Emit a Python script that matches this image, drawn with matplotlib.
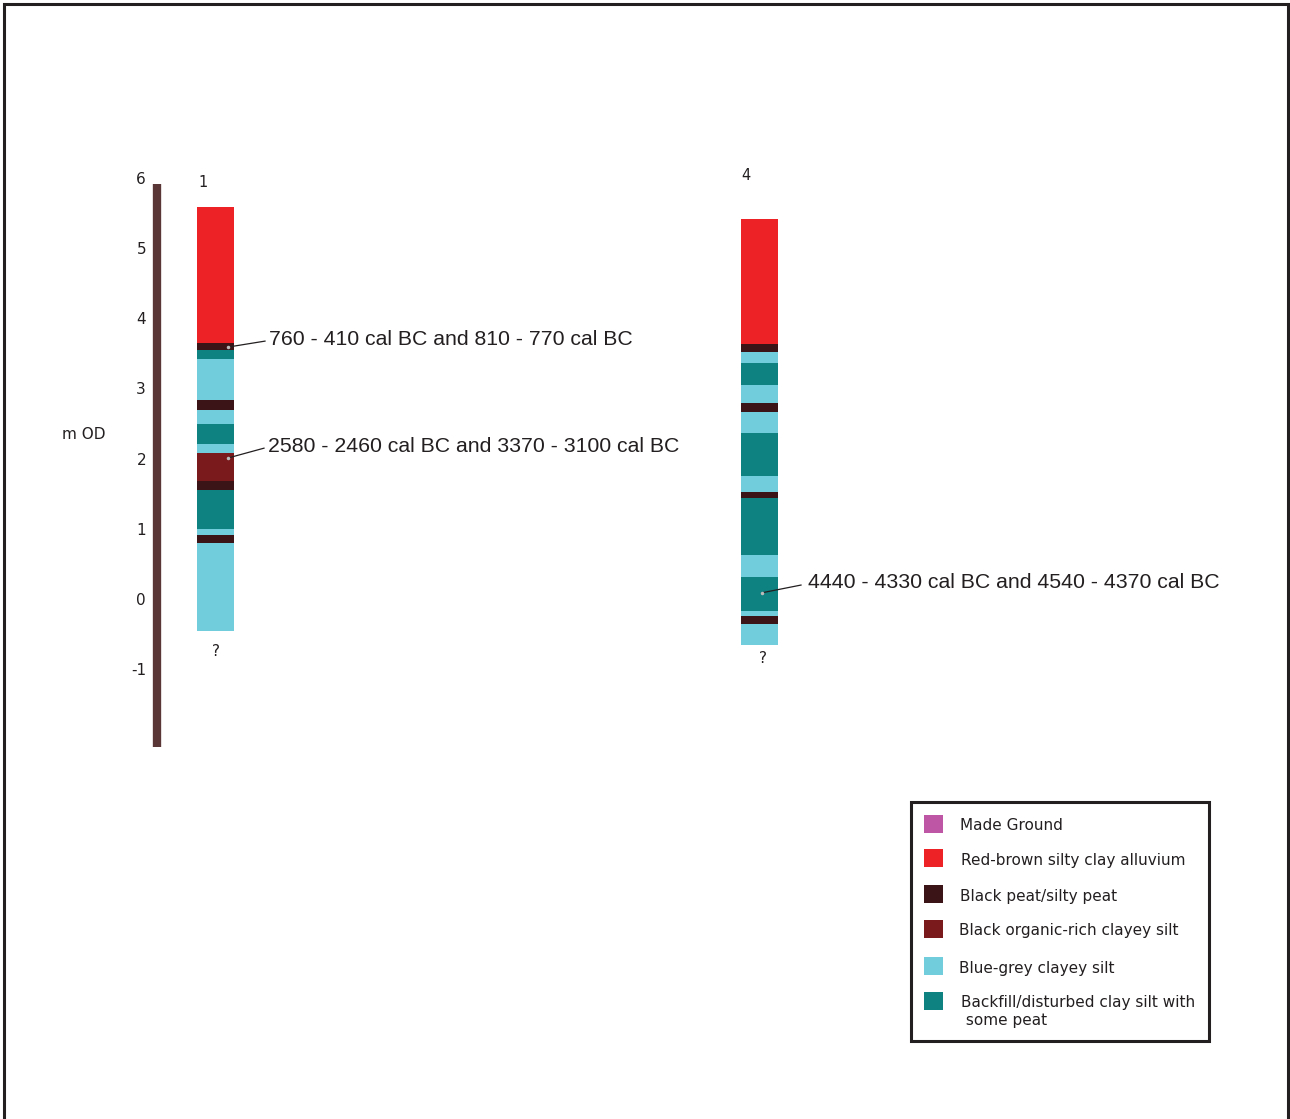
import matplotlib
matplotlib.use("Agg")
import matplotlib.pyplot as plt
from matplotlib.patches import Rectangle

# ---- data -----------------------------------------------------------------
layer_names = {
    "made": "Made Ground",
    "red": "Red-brown silty clay alluvium",
    "peat": "Black peat/silty peat",
    "org": "Black organic-rich clayey silt",
    "blue": "Blue-grey clayey silt",
    "teal": "Backfill/disturbed clay silt with\n some peat",
}
layer_colors = {
    "made": "#BE56A5",
    "red": "#EC2227",
    "peat": "#3B1418",
    "org": "#7A1A1C",
    "blue": "#71CDDC",
    "teal": "#0E8181",
}
legend_order = ["made", "red", "peat", "org", "blue", "teal"]

# borehole 1: layer boundaries (m OD, top to bottom) and layer types
core1_bounds = [5.60, 3.67, 3.57, 3.44, 2.86, 2.72, 2.52, 2.23, 2.10,
                1.70, 1.57, 1.02, 0.93, 0.82, -0.44]
core1_types = ["red", "peat", "teal", "blue", "peat", "blue", "teal",
               "blue", "org", "peat", "teal", "blue", "peat", "blue"]

# borehole 4
core4_bounds = [5.43, 3.65, 3.54, 3.38, 3.07, 2.82, 2.69, 2.38, 1.78,
                1.54, 1.46, 0.65, 0.34, -0.15, -0.22, -0.33, -0.63]
core4_types = ["red", "peat", "blue", "teal", "blue", "peat", "blue",
               "teal", "blue", "peat", "teal", "blue", "teal", "blue",
               "peat", "blue"]

core_names = ["1", "4"]

# radiocarbon dates: (sample level m OD, label level m OD, text)
dates1 = [(3.61, 3.725, "760 - 410 cal BC and 810 - 770 cal BC"),
          (2.03, 2.20, "2580 - 2460 cal BC and 3370 - 3100 cal BC")]
dates4 = [(0.11, 0.25, "4440 - 4330 cal BC and 4540 - 4370 cal BC")]

tick_values = [6, 5, 4, 3, 2, 1, 0, -1]
scale_range = (-2.09, 5.93)

# ---- figure ---------------------------------------------------------------
W, H = 1290, 1119
fig = plt.figure(figsize=(W / 100, H / 100), dpi=100)
fig.patch.set_facecolor("white")

# main axes: x in horizontal page units, y in m OD
ax = fig.add_axes([0, 0, 1, 1])
ax.set_xlim(0, W)
top_v = 600.5 / 70.2
bot_v = (600.5 - H) / 70.2
ax.set_ylim(bot_v, top_v)
ax.axis("off")

VFONT = "DejaVu Sans"
AFONT = "Liberation Sans"
txt = "#231F20"

# vertical scale bar with tick labels
ax.plot([157, 157], list(scale_range), color="#5B3636", lw=6,
        solid_capstyle="butt")
for v in tick_values:
    ax.text(146, v, str(v), ha="right", va="center", fontsize=11,
            family=VFONT, color=txt)
ax.text(84, 2.36, "m OD", ha="center", va="center", fontsize=11,
        family=VFONT, color=txt)


def draw_core(xc, bounds, types):
    tops = bounds[:-1]
    bots = bounds[1:]
    for t, b, k in zip(tops, bots, types):
        ax.bar(xc, t - b, bottom=b, width=37, color=layer_colors[k],
               edgecolor="none", linewidth=0)


draw_core(215, core1_bounds, core1_types)
draw_core(759, core4_bounds, core4_types)

ax.text(203, 5.96, core_names[0], ha="center", va="center", fontsize=10.5,
        family=VFONT, color=txt)
ax.text(746, 6.05, core_names[1], ha="center", va="center", fontsize=10.5,
        family=VFONT, color=txt)
ax.text(216, core1_bounds[-1] - 0.29, "?", ha="center", va="center",
        fontsize=11, family=VFONT, color=txt)
ax.text(763, core4_bounds[-1] - 0.2, "?", ha="center", va="center",
        fontsize=11, family=VFONT, color=txt)


def draw_date(x0, v, vt, label, x1, xt):
    # leader line from the sample level to the label
    ax.plot([x0, x1], [v, vt - 0.03], color="#231F20", lw=0.9)
    ax.plot([x0], [v], marker="o", ms=1.5, color="#bbbbbb")
    ax.text(xt, vt, label, ha="left", va="center", fontsize=15.3,
            family=AFONT, color=txt)


draw_date(228, dates1[0][0], dates1[0][1], dates1[0][2], 265, 269)
draw_date(228, dates1[1][0], dates1[1][1], dates1[1][2], 264, 268)
draw_date(762, dates4[0][0], dates4[0][1], dates4[0][2], 801, 808)

# ---- overlay for page frame and key (pixel coordinates) -------------------
ov = fig.add_axes([0, 0, 1, 1], facecolor="none")
ov.set_xlim(0, W)
ov.set_ylim(H, 0)
ov.axis("off")

# page frame (left, top, right)
ov.plot([4, 4, 1288, 1288], [H + 5, 4, 4, H + 5], color="#231F20", lw=2.2,
        solid_joinstyle="miter", clip_on=False)

# key
ov.add_patch(Rectangle((911, 802), 298, 239, fill=False, edgecolor="#231F20",
                       lw=2.2))
key_rows = [825, 859, 895, 930, 967, 1002]
key_text_x = [960, 961, 960, 959, 959, 961]
for k, yk, xt in zip(legend_order, key_rows, key_text_x):
    ov.add_patch(Rectangle((924, yk - 10), 19, 18, facecolor=layer_colors[k],
                           edgecolor="none"))
    multi = "\n" in layer_names[k]
    ov.text(xt, yk - 7 if multi else yk + 1, layer_names[k], ha="left",
            va="top" if multi else "center",
            fontsize=11, family=VFONT, color=txt, linespacing=1.25)

fig.savefig("out.png", dpi=100, facecolor="white")
